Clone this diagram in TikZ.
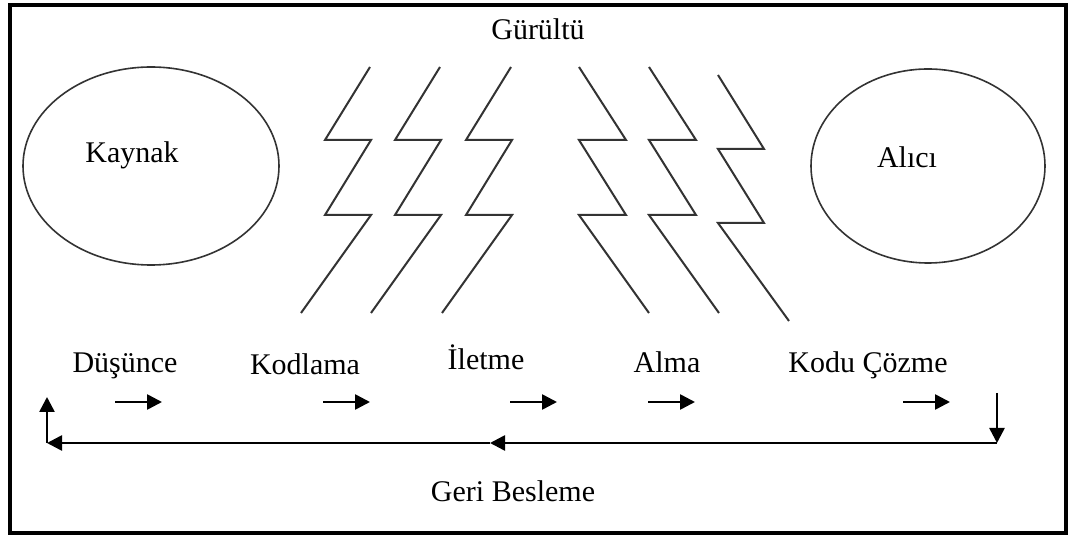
\documentclass[tikz,border=0pt]{standalone}
\usepackage{fontspec}
\setmainfont{Liberation Serif}
\usetikzlibrary{arrows.meta}
\begin{document}
\begin{tikzpicture}[x=0.5pt,y=-0.5pt,
  lbl/.style={anchor=base,inner sep=0pt,font=\fontsize{15}{18}\selectfont},
  bolt/.style={line width=1pt,line join=miter,color=black!80},
  oval/.style={line width=0.8pt,color=black!80},
  flow/.style={line width=1.3pt,-{Triangle[length=7.5pt,width=7.5pt]}},
  frame/.style={line width=1.6pt}]
\useasboundingbox (0,0) rectangle (1072,539);
\draw[frame] (10,5) rectangle (1066,533);
% ellipses
\draw[oval] (151,166) ellipse [x radius=128, y radius=99];
\draw[oval] (928,166) ellipse [x radius=117, y radius=97];
% labels
\node[lbl] (gur) at (538,40) {Gürültü};
\node[lbl] (kay) at (132,163) {Kaynak};
\node[lbl] (ali) at (907,168) {Alıcı};
\node[lbl] (dus) at (125,373) {Düşünce};
\node[lbl] (kod) at (305,375) {Kodlama};
\node[lbl] (ilet) at (486,370) {İletme};
\node[lbl] (alma) at (667,373) {Alma};
\node[lbl] (coz) at (868,373) {Kodu Çözme};
\node[lbl] (geri) at (513,502) {Geri Besleme};
% left bolts
\foreach \d in {0,70,141}{
  \draw[bolt] (370+\d,67) -- (325+\d,140) -- (371+\d,140) -- (325+\d,215) -- (371+\d,215) -- (301+\d,313);
}
% right bolts
\foreach \d in {0,70}{
  \draw[bolt] (579+\d,67) -- (626+\d,140) -- (579+\d,140) -- (626+\d,215) -- (579+\d,215) -- (649+\d,313);
}
\draw[bolt] (718,75) -- (764,149) -- (718,149) -- (764,223) -- (718,223) -- (789,321);
% step arrows
\draw[flow] (115,402) -- (162,402);
\draw[flow] (323,402) -- (370,402);
\draw[flow] (510,402) -- (557,402);
\draw[flow] (648,402) -- (695,402);
\draw[flow] (903,402) -- (950,402);
% feedback loop
\coordinate (dtop) at (997,393);
\coordinate (rc) at (997,443);
\coordinate (mid) at (490,443);
\coordinate (lc) at (47,443);
\coordinate (utop) at (47,397);
\draw[flow] (dtop) -- (rc);
\draw[flow] (rc) -- (mid);
\draw[flow] (mid) -- (lc);
\draw[flow] (lc) -- (utop);
\end{tikzpicture}
\end{document}
